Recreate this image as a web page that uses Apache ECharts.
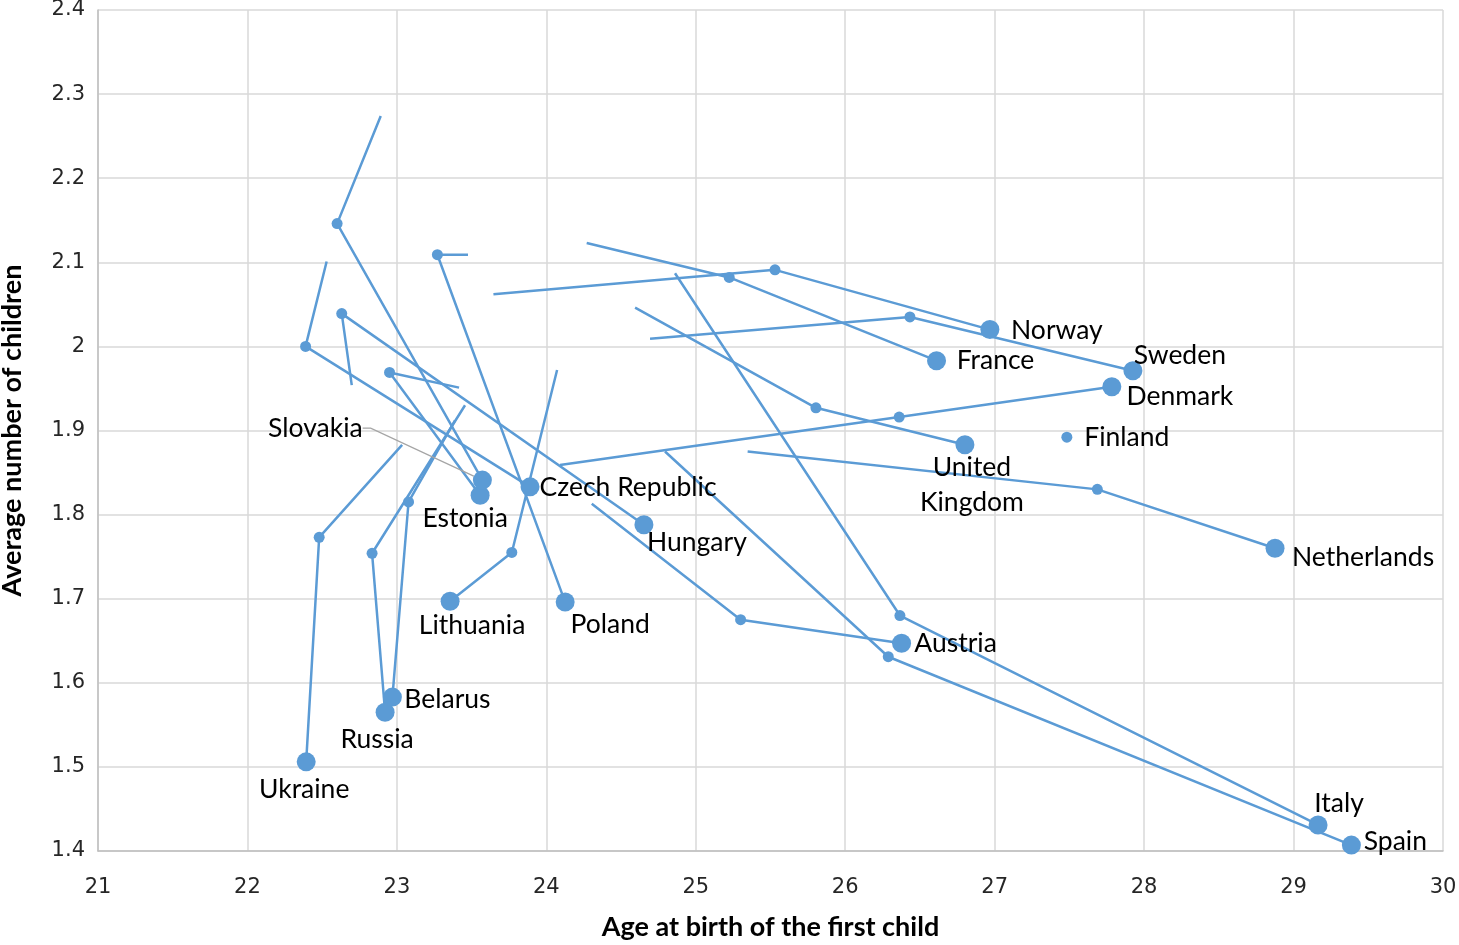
<!DOCTYPE html>
<html><head><meta charset="utf-8">
<script src="https://cdn.jsdelivr.net/npm/echarts@6/dist/echarts.min.js"></script>
<style>html,body{margin:0;padding:0;background:#fff}#c{width:1459px;height:945px}</style>
</head><body><div id="c"></div>
<script>
// ---- data ----
const countries = ['Ukraine','Russia','Belarus','Lithuania','Estonia','Slovakia','Czech Republic','Poland','Hungary','Austria','Italy','Spain','France','Norway','Sweden','United\nKingdom','Denmark','Netherlands','Finland'];
// age at birth of the first child / average number of children: start, middle, end of each trajectory
const startAge      = [23.035, 23.456, 23.389, 24.072, 23.416, 22.892, 22.530, 23.476, 22.698, 24.304, 24.861, 24.794, 24.270, 23.646, 24.694, 24.594, 24.091, 25.347, null];
const startChildren = [1.883, 1.930, 1.912, 1.972, 1.951, 2.274, 2.101, 2.109, 1.954, 1.813, 2.087, 1.875, 2.123, 2.062, 2.009, 2.046, 1.859, 1.875, null];
const midAge        = [22.480, 22.834, 23.078, 23.769, 22.951, 22.600, 22.389, 23.271, 22.631, 25.300, 26.366, 26.288, 25.224, 25.530, 26.433, 25.804, 26.361, 27.687, 27.483];
const midChildren   = [1.773, 1.754, 1.815, 1.755, 1.969, 2.146, 2.000, 2.109, 2.039, 1.675, 1.680, 1.631, 2.082, 2.091, 2.035, 1.927, 1.916, 1.830, 1.892];
const endAge        = [22.393, 22.921, 22.970, 23.356, 23.557, 23.572, 23.891, 24.126, 24.653, 26.377, 29.164, 29.387, 26.611, 26.968, 27.925, 26.801, 27.784, 28.876, null];
const endChildren   = [1.506, 1.565, 1.583, 1.697, 1.823, 1.841, 1.833, 1.696, 1.788, 1.647, 1.431, 1.407, 1.983, 2.020, 1.971, 1.883, 1.952, 1.760, null];
const xTicks = [21, 22, 23, 24, 25, 26, 27, 28, 29, 30];
const yTicks = [1.4, 1.5, 1.6, 1.7, 1.8, 1.9, 2.0, 2.1, 2.2, 2.3, 2.4];

// ---- styling (label offsets from the last marker, in px) ----
const labelOffset = {
  'Ukraine':[-2,28], 'Russia':[-8,27], 'Belarus':[55,2], 'Lithuania':[22,24], 'Estonia':[-15,23],
  'Slovakia':[0,0], 'Czech Republic':[98,1], 'Poland':[45,22], 'Hungary':[53,18], 'Austria':[54,0],
  'Italy':[21,-21], 'Spain':[44,-4], 'France':[59,0], 'Norway':[67,1], 'Sweden':[47,-15],
  'United\nKingdom':[7,40], 'Denmark':[68,10], 'Netherlands':[88,9], 'Finland':[60,0]
};
const BLUE = '#5b9bd5';
const FONT = 'Lato';

const series = countries.map((name, i) => {
  const pts = [];
  if (startAge[i] != null) pts.push({ value: [startAge[i], startChildren[i]], symbol: 'none' });
  if (midAge[i] != null) pts.push({ value: [midAge[i], midChildren[i]], symbolSize: 11 });
  if (endAge[i] != null) pts.push({ value: [endAge[i], endChildren[i]], symbolSize: 19 });
  const last = pts[pts.length - 1];
  const off = labelOffset[name];
  last.label = {
    show: true, position: 'inside', offset: off, formatter: name,
    color: '#000', fontFamily: FONT, fontSize: 26.5, lineHeight: 35,
    align: 'center', verticalAlign: 'middle'
  };
  const s = {
    type: 'line', name: name, data: pts, symbol: 'circle',
    lineStyle: { color: BLUE, width: 2.5 }, itemStyle: { color: BLUE },
    label: { show: false }, silent: true, z: 3
  };
  if (name === 'Slovakia') {
    s.labelLayout = { dx: -167, dy: -52 };
    s.labelLine = { show: true, length2: 8, lineStyle: { color: '#a5a5a5', width: 1.3 } };
  }
  return s;
});

const chart = echarts.init(document.getElementById('c'));
chart.setOption({
  animation: false,
  backgroundColor: '#fff',
  grid: { left: 98, right: 16, top: 10, bottom: 94, containLabel: false, outerBoundsMode: 'none' },
  xAxis: {
    type: 'value', min: xTicks[0], max: xTicks[xTicks.length - 1], interval: 1,
    name: 'Age at birth of the first child', nameLocation: 'middle', nameGap: 63,
    nameTextStyle: { fontFamily: FONT, fontWeight: 'bold', fontSize: 27, color: '#000' },
    axisLine: { show: true, lineStyle: { color: '#bfbfbf', width: 1.5 } },
    axisTick: { show: false },
    axisLabel: { fontFamily: 'DejaVu Sans', fontSize: 21, color: '#262626', margin: 26 },
    splitLine: { show: true, lineStyle: { color: '#d9d9d9', width: 1.5 } }
  },
  yAxis: {
    type: 'value', min: yTicks[0], max: yTicks[yTicks.length - 1], interval: 0.1,
    name: 'Average number of children', nameLocation: 'middle', nameGap: 72, nameRotate: 90,
    nameTextStyle: { fontFamily: FONT, fontWeight: 'bold', fontSize: 27, color: '#000' },
    axisLine: { show: true, lineStyle: { color: '#bfbfbf', width: 1.5 } },
    axisTick: { show: false },
    axisLabel: { fontFamily: 'DejaVu Sans', fontSize: 21, color: '#262626', margin: 13,
      formatter: v => String(Math.round(v * 10) / 10) },
    splitLine: { show: true, lineStyle: { color: '#d9d9d9', width: 1.5 } }
  },
  series: series
});
</script></body></html>
